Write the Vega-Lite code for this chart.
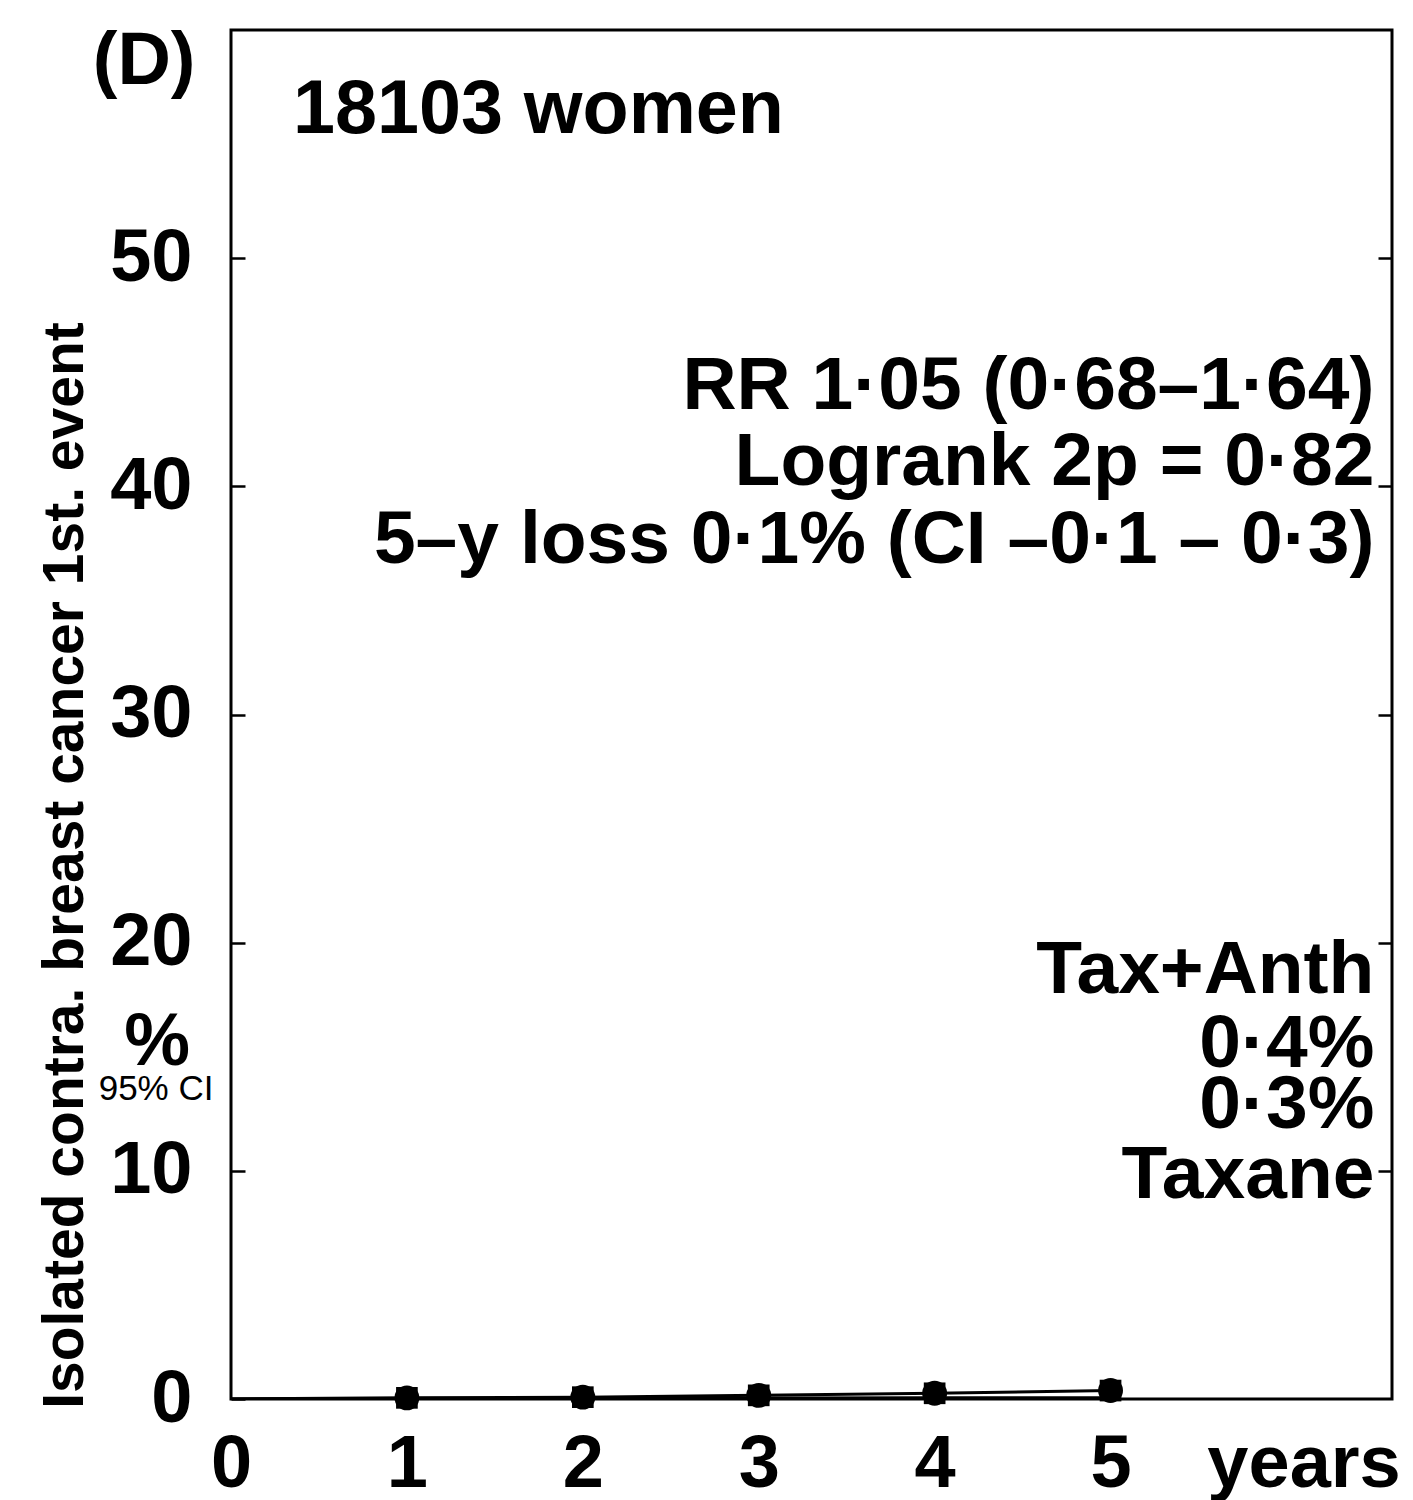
{
  "$schema": "https://vega.github.io/schema/vega-lite/v6.json",
  "width": 1161,
  "height": 1369,
  "autosize": "none",
  "padding": {"left": 231, "top": 30, "right": 21, "bottom": 101},
  "background": "white",
  "config": {
    "view": {"stroke": "black", "strokeWidth": 3},
    "font": "Liberation Sans"
  },
  "datasets": {
    "curves": [
      {"series": "Tax+Anth", "year": 0, "pct": 0},
      {"series": "Tax+Anth", "year": 1, "pct": 0.05},
      {"series": "Tax+Anth", "year": 2, "pct": 0.08},
      {"series": "Tax+Anth", "year": 3, "pct": 0.16},
      {"series": "Tax+Anth", "year": 4, "pct": 0.25},
      {"series": "Tax+Anth", "year": 5, "pct": 0.37},
      {"series": "Taxane", "year": 0, "pct": 0},
      {"series": "Taxane", "year": 1, "pct": 0.02},
      {"series": "Taxane", "year": 2, "pct": 0.03},
      {"series": "Taxane", "year": 3, "pct": 0.04},
      {"series": "Taxane", "year": 4, "pct": 0.05},
      {"series": "Taxane", "year": 5, "pct": 0.06}
    ],
    "markers": [
      {"year": 1, "pct": 0.05, "lo": -0.25, "hi": 0.35},
      {"year": 2, "pct": 0.08, "lo": -0.22, "hi": 0.4},
      {"year": 3, "pct": 0.16, "lo": -0.14, "hi": 0.48},
      {"year": 4, "pct": 0.25, "lo": -0.05, "hi": 0.57},
      {"year": 5, "pct": 0.37, "lo": 0.05, "hi": 0.68}
    ],
    "rightText": [
      {"label": "RR 1·05 (0·68–1·64)", "x": 6.5, "y": 43.4},
      {"label": "Logrank 2p = 0·82", "x": 6.5, "y": 40.05},
      {"label": "5–y loss 0·1% (CI –0·1 – 0·3)", "x": 6.5, "y": 36.65},
      {"label": "Tax+Anth", "x": 6.5, "y": 17.78},
      {"label": "0·4%", "x": 6.5, "y": 14.54},
      {"label": "0·3%", "x": 6.5, "y": 11.87},
      {"label": "Taxane", "x": 6.5, "y": 8.8}
    ],
    "leftText": [
      {"label": "18103 women", "x": 0.352, "y": 55.47}
    ],
    "centerText": [
      {"label": "(D)", "x": -0.494, "y": 57.62},
      {"label": "%", "x": -0.42, "y": 14.62},
      {"label": "years", "x": 6.1, "y": -3.85}
    ],
    "smallText": [
      {"label": "95% CI", "x": -0.426, "y": 13.09}
    ],
    "yTitle": [
      {"label": "Isolated contra. breast cancer 1st. event", "x": -0.841, "y": 23.38}
    ]
  },
  "resolve": {"scale": {"y": "independent"}, "axis": {"y": "independent"}},
  "layer": [
    {
      "layer": [
        {
          "data": {"name": "curves"},
          "mark": {"type": "line", "color": "black", "strokeWidth": 3, "clip": true},
          "encoding": {
            "x": {
              "field": "year", "type": "quantitative",
              "scale": {"domain": [0, 6.6], "nice": false, "zero": false},
              "axis": {
                "values": [0, 1, 2, 3, 4, 5], "title": null, "domain": false, "ticks": false, "grid": false,
                "labelFontSize": 74, "labelFontWeight": "bold", "labelColor": "black",
                "labelPadding": 29, "labelFont": "Liberation Sans", "format": "d", "labelFlush": false
              }
            },
            "y": {
              "field": "pct", "type": "quantitative",
              "scale": {"domain": [0, 60], "nice": false},
              "axis": {
                "values": [0, 10, 20, 30, 40, 50], "title": null, "domain": false, "grid": false,
                "tickSize": -14, "tickWidth": 2.5, "tickColor": "black",
                "labelFontSize": 74, "labelFontWeight": "bold", "labelColor": "black",
                "labelPadding": 53, "labelFont": "Liberation Sans", "format": "d", "labelFlush": false
              }
            },
            "detail": {"field": "series"}
          }
        },
        {
          "data": {"name": "markers"},
          "mark": {"type": "rule", "color": "black", "strokeWidth": 3},
          "encoding": {
            "x": {"field": "year", "type": "quantitative"},
            "y": {"field": "lo", "type": "quantitative"},
            "y2": {"field": "hi"}
          }
        },
        {
          "data": {"name": "markers"},
          "mark": {"type": "point", "shape": "square", "filled": true, "color": "black", "size": 470, "opacity": 1},
          "encoding": {
            "x": {"field": "year", "type": "quantitative"},
            "y": {"field": "pct", "type": "quantitative"}
          }
        },
        {
          "data": {"name": "markers"},
          "mark": {"type": "point", "shape": "circle", "filled": true, "color": "black", "size": 620, "opacity": 1},
          "encoding": {
            "x": {"field": "year", "type": "quantitative"},
            "y": {"field": "pct", "type": "quantitative"}
          }
        },
        {
          "data": {"name": "rightText"},
          "mark": {"type": "text", "align": "right", "baseline": "alphabetic", "fontSize": 75, "fontWeight": "bold", "color": "black", "font": "Liberation Sans"},
          "encoding": {
            "x": {"field": "x", "type": "quantitative"},
            "y": {"field": "y", "type": "quantitative"},
            "text": {"field": "label"}
          }
        },
        {
          "data": {"name": "leftText"},
          "mark": {"type": "text", "align": "left", "baseline": "alphabetic", "fontSize": 75.5, "fontWeight": "bold", "color": "black", "font": "Liberation Sans"},
          "encoding": {
            "x": {"field": "x", "type": "quantitative"},
            "y": {"field": "y", "type": "quantitative"},
            "text": {"field": "label"}
          }
        },
        {
          "data": {"name": "centerText"},
          "mark": {"type": "text", "align": "center", "baseline": "alphabetic", "fontSize": 74, "fontWeight": "bold", "color": "black", "font": "Liberation Sans"},
          "encoding": {
            "x": {"field": "x", "type": "quantitative"},
            "y": {"field": "y", "type": "quantitative"},
            "text": {"field": "label"}
          }
        },
        {
          "data": {"name": "smallText"},
          "mark": {"type": "text", "align": "center", "baseline": "alphabetic", "fontSize": 35, "fontWeight": "normal", "color": "black", "font": "Liberation Sans"},
          "encoding": {
            "x": {"field": "x", "type": "quantitative"},
            "y": {"field": "y", "type": "quantitative"},
            "text": {"field": "label"}
          }
        },
        {
          "data": {"name": "yTitle"},
          "mark": {"type": "text", "align": "center", "baseline": "alphabetic", "angle": 270, "fontSize": 57, "fontWeight": "bold", "color": "black", "font": "Liberation Sans"},
          "encoding": {
            "x": {"field": "x", "type": "quantitative"},
            "y": {"field": "y", "type": "quantitative"},
            "text": {"field": "label"}
          }
        }
      ]
    },
    {
      "data": {"name": "markers"},
      "mark": {"type": "point", "opacity": 0},
      "encoding": {
        "x": {"field": "year", "type": "quantitative"},
        "y": {
          "field": "pct", "type": "quantitative",
          "scale": {"domain": [0, 60], "nice": false},
          "axis": {
            "orient": "right", "values": [10, 20, 30, 40, 50], "title": null, "domain": false, "grid": false,
            "labels": false, "tickSize": -14, "tickWidth": 2.5, "tickColor": "black"
          }
        }
      }
    }
  ]
}
